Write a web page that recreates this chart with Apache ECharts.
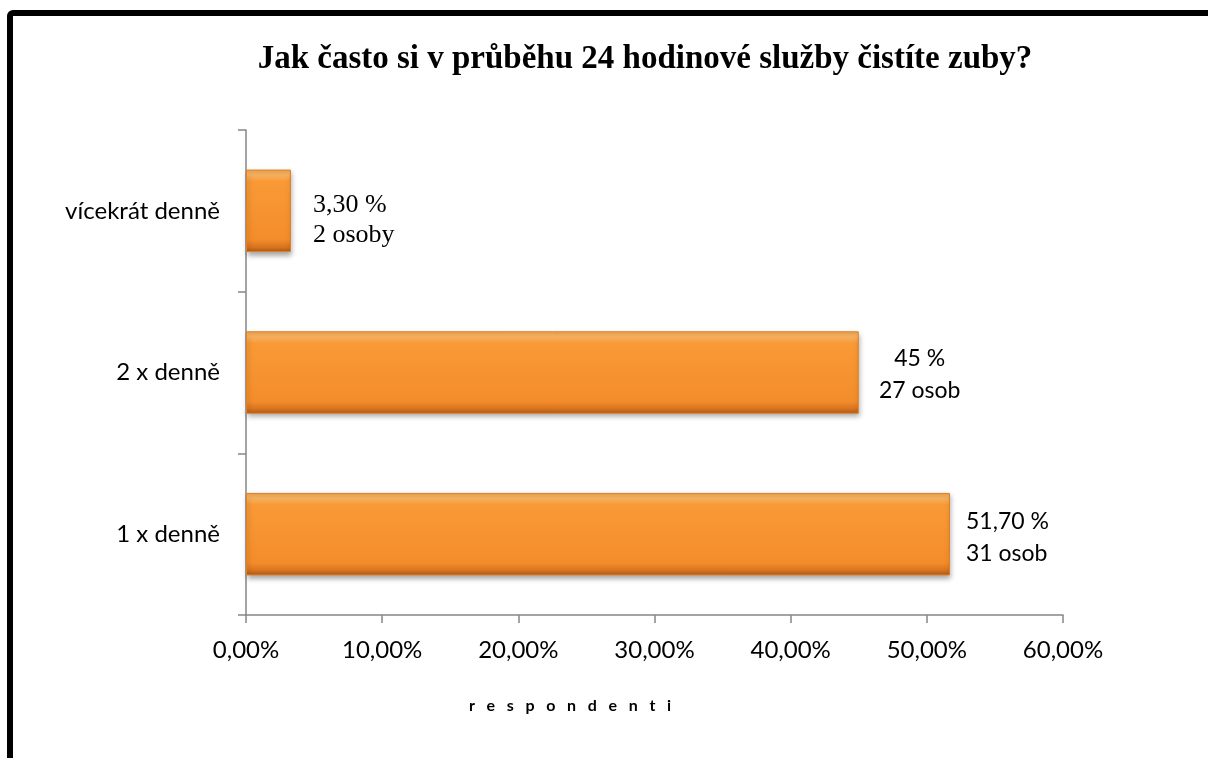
<!DOCTYPE html>
<html>
<head>
<meta charset="utf-8">
<script src="https://cdn.jsdelivr.net/npm/echarts@6/dist/echarts.min.js"></script>
<style>
  html, body { margin: 0; padding: 0; background: #fff; }
  #chart { width: 1208px; height: 758px; }
</style>
</head>
<body>
<div id="chart"></div>
<script>
// Categories (bottom to top) and their shares in percent
const categories = ['1 x denně', '2 x denně', 'vícekrát denně'];
const shares = [51.7, 45, 3.3];
const shareLabels = ['51,70 %', '45 %', '3,30 %'];
const countLabels = ['31 osob', '27 osob', '2 osoby'];
const xTickLabels = ['0,00%', '10,00%', '20,00%', '30,00%', '40,00%', '50,00%', '60,00%'];

const sans = 'Lato, "Open Sans", sans-serif';
const serif = '"Liberation Serif", "DejaVu Serif", serif';

// Per-bar label styling
const labelStyles = [
  { distance: 16, align: 'left', fontFamily: sans, fontSize: 23, lineHeight: 32, offset: [0, 3] },
  { distance: 61, align: 'center', fontFamily: sans, fontSize: 23, lineHeight: 32, offset: [0, 2] },
  { distance: 22, align: 'left', fontFamily: serif, fontSize: 26, lineHeight: 30, offset: [0, 9] }
];

const barColor = {
  type: 'linear', x: 0, y: 0, x2: 0, y2: 1,
  colorStops: [
    { offset: 0, color: '#F4A24A' },
    { offset: 0.06, color: '#FBB866' },
    { offset: 0.14, color: '#F99A36' },
    { offset: 0.85, color: '#F38D2B' },
    { offset: 0.94, color: '#D9731F' },
    { offset: 1, color: '#A85A1C' }
  ]
};

// Spread letters of the axis title
const axisTitle = 'respondenti'.split('').join('   ');

const chart = echarts.init(document.getElementById('chart'));
chart.setOption({
  animation: false,
  backgroundColor: '#fff',
  title: [
    {
      text: 'Jak často si v průběhu 24 hodinové služby čistíte zuby?',
      left: 640, top: 38, textAlign: 'center',
      textStyle: { fontFamily: serif, fontWeight: 'bold', fontSize: 33, color: '#000' }
    },
    {
      text: axisTitle,
      left: 565, top: 693, textAlign: 'center',
      textStyle: { fontFamily: sans, fontWeight: 'bold', fontSize: 16, color: '#000' }
    }
  ],
  graphic: [
    {
      type: 'rect',
      shape: { x: 10, y: 13, width: 1400, height: 1000, r: 3 },
      style: { fill: 'none', stroke: '#000', lineWidth: 6 },
      silent: true
    }
  ],
  grid: { left: 246, right: 145, top: 130, bottom: 143 },
  xAxis: {
    type: 'value',
    min: 0, max: 60, interval: 10,
    axisLine: { show: true, lineStyle: { color: '#868686', width: 1.5 } },
    axisTick: { show: true, length: 8, lineStyle: { color: '#868686', width: 1.5 } },
    splitLine: { show: false },
    axisLabel: {
      margin: 23,
      fontFamily: sans, fontSize: 24, color: '#000',
      formatter: (v) => xTickLabels[Math.round(v / 10)]
    }
  },
  yAxis: {
    type: 'category',
    data: categories,
    axisLine: { show: true, lineStyle: { color: '#868686', width: 1.5 } },
    axisTick: { show: true, length: 8, alignWithLabel: false, lineStyle: { color: '#868686', width: 1.5 } },
    axisLabel: { margin: 26, fontFamily: sans, fontSize: 24, color: '#000' }
  },
  series: [{
    type: 'bar',
    barWidth: '51%',
    data: shares.map((v, i) => ({
      value: v,
      label: {
        show: true,
        position: 'right',
        distance: labelStyles[i].distance,
        align: labelStyles[i].align,
        offset: labelStyles[i].offset,
        fontFamily: labelStyles[i].fontFamily,
        fontSize: labelStyles[i].fontSize,
        lineHeight: labelStyles[i].lineHeight,
        color: '#000',
        formatter: shareLabels[i] + '\n' + countLabels[i]
      }
    })),
    itemStyle: {
      color: barColor,
      borderColor: '#E07F26',
      borderWidth: 1,
      shadowColor: 'rgba(0,0,0,0.35)',
      shadowBlur: 5,
      shadowOffsetX: 1,
      shadowOffsetY: 3
    }
  }]
});
</script>
</body>
</html>
